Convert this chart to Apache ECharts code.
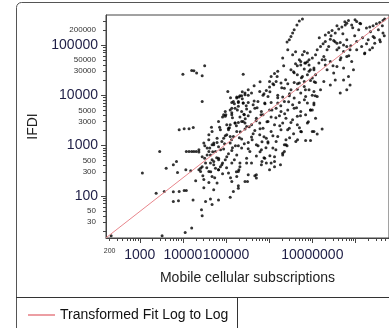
<!DOCTYPE html>
<html><head><meta charset="utf-8">
<script src="https://cdn.jsdelivr.net/npm/echarts@6/dist/echarts.min.js"></script>
<style>html,body{margin:0;padding:0;background:#fff}#c{width:389px;height:328px}</style>
</head><body><div id="c"></div>
<script>
// Mobile cellular subscriptions (x) and IFDI (y)
const subscriptions = [
217, 1150, 2400, 2900, 3300, 3700, 4100, 6000, 7100, 7500,
6000, 8200, 6000, 7900, 8200, 10700, 13900, 17400, 12000, 13900,
16000, 18000, 20400, 23500, 11700, 15200, 10700, 12000, 11300, 17200,
16000, 27000, 28000, 33500, 43500, 47500, 67000, 46000, 71000, 10000,
16000, 18000, 20800, 28000, 32000, 28000, 250000, 110000,
19800, 23500, 25700, 28000, 32000, 30600, 36500, 40000, 42000, 47500,
52000, 47500, 43500, 52000, 57000, 40000, 62000, 67000, 67000, 62000,
125000, 162000, 193000, 230000, 275000, 300000, 136000, 260000, 96000, 99000,
83000, 88000, 136000, 177000, 200000, 230000, 275000, 148000, 193000, 250000,
193000, 265000, 114000, 104000, 88000, 125000, 74000, 83000, 96000,
5400000, 6700000, 8400000, 4500000, 3200000, 3800000, 6500000, 8400000, 10900000, 1330000,
1530000, 4500000, 5900000, 7700000, 10000000, 11900000, 1450000, 1220000, 1880000, 2700000,
3800000, 5000000, 6500000, 9100000, 11900000, 1020000, 860000, 2250000, 3200000, 4500000,
6500000, 8400000, 10900000, 605000, 275000, 327000, 390000, 210000, 177000, 720000,
940000, 1580000, 2060000, 2930000, 3800000, 5400000, 7000000, 10000000, 136000, 193000,
250000, 327000, 425000, 550000, 790000, 1110000, 1580000, 2250000, 3500000, 5000000,
7700000, 10900000, 125000, 162000, 230000, 300000, 465000, 660000, 1020000, 1450000,
1880000, 2700000, 3800000, 5400000, 9100000, 96000, 136000, 210000, 327000, 505000,
720000, 1110000, 1730000, 2450000, 4500000, 7000000, 11900000, 67000, 104000, 162000,
250000, 390000, 605000, 940000, 1330000, 2060000, 3200000, 4500000, 7700000, 47500,
74000, 114000, 177000, 275000, 465000, 720000, 1110000, 1880000, 2930000, 5400000,
10000000, 40000, 62000, 96000, 148000, 230000, 390000, 605000, 860000, 1580000,
2450000, 4150000, 7000000, 9100000, 30600, 52000, 80000, 125000, 193000, 327000,
505000, 940000, 1450000, 2250000, 23500, 36500, 57000, 88000, 136000, 230000,
357000, 660000, 1220000, 2060000, 28000, 43500, 67000, 104000, 177000, 300000,
505000, 790000, 1330000, 33500, 52000, 80000, 136000, 210000, 390000, 660000,
1330000, 25700, 40000, 67000, 114000, 193000, 327000, 505000, 47500, 1020000,
10900000, 13000000, 16900000, 2450000, 2600000, 2250000, 2060000, 1830000, 1330000, 1110000,
860000, 680000, 505000, 465000, 315000, 193000, 199000, 210000, 300000,
5900000, 5000000, 4400000, 3800000, 3500000, 3200000, 2930000, 2600000,
20000000, 24000000, 28700000, 34000000, 41000000, 48500000, 58000000, 63000000, 69000000, 82000000,
98000000, 107000000, 127000000, 180000000, 215000000, 257000000, 306000000, 365000000, 435000000, 475000000,
20000000, 26200000, 31300000, 37300000, 44400000, 53000000, 63000000, 24000000, 37300000, 53000000, 75000000,
6500000, 7700000, 5900000, 8400000, 10000000, 11900000, 13000000, 15500000, 5000000, 7000000,
5400000, 10900000, 14200000, 16900000, 18500000, 20000000, 26200000, 22000000, 37300000, 31300000,
53000000, 44400000, 63000000, 82000000, 90000000, 69000000, 53000000, 34000000, 75000000, 63000000,
44400000, 26200000, 18500000, 15500000, 13000000, 10900000, 9100000,
165000000, 215000000, 280000000, 365000000, 435000000, 257000000, 139000000, 107000000, 198000000,
2700000, 3500000, 4100000, 2060000, 1110000, 1580000, 1020000,
127000, 156000, 183000, 238000, 294000, 363000, 448000, 525000, 648000, 800000,
141000, 174000, 214000, 279000, 344000, 425000, 498000, 615000, 759000, 889000,
134000, 165000, 204000, 265000, 327000, 403000, 553000, 682000, 843000, 120000,
1040000, 1280000, 1580000, 1960000, 2410000, 2980000, 3680000, 4540000, 5600000, 6920000,
1160000, 1430000, 1860000, 2290000, 2830000, 3490000, 4310000, 5320000, 6560000, 8100000,
9000000, 11100000, 7690000, 4090000, 2170000, 1760000, 2680000, 5040000, 11700000, 10000000,
14500000, 17800000, 22000000, 27200000, 33600000, 41400000, 51100000, 63100000, 77900000, 96100000,
119000000, 146000000, 181000000, 223000000, 275000000, 340000000, 420000000, 466000000, 46000000, 70100000,
107000000, 163000000, 248000000, 378000000, 19800000, 30200000, 37300000, 56800000, 86500000, 132000000,
29000, 35800, 44200, 54600, 67400, 83200, 103000, 127000, 156000, 174000,
32200, 39800, 49100, 60700, 74800, 92400, 114000, 141000, 30600, 51800,
148000, 125000, 193000, 275000, 136000, 177000,
2980000, 3680000, 4540000, 5600000, 1430000, 1040000, 759000, 615000, 936000, 1220000,
327000, 448000, 615000, 759000, 238000
];
const ifdi = [
16, 283, 113, 760, 16, 122, 355, 413, 480, 290,
120, 122, 77, 80, 2050, 2150, 2150, 2280, 760, 760,
760, 760, 760, 740, 330, 314, 127, 127, 18.6, 83,
23, 53, 40, 77, 86, 67, 83, 2300, 2300, 26000,
31000, 30500, 27500, 24300, 38500, 7500, 26000, 11800,
200, 330, 305, 380, 560, 210, 650, 760, 890, 1030,
1120, 520, 450, 413, 355, 184, 1150, 940, 330, 179,
2600, 2800, 2870, 3000, 2800, 2390, 4500, 4200, 4750, 4100,
3670, 4100, 5500, 8800, 9200, 9800, 10200, 7500, 7200, 7000,
6000, 4100, 2050, 1630, 1400, 1510, 380, 450, 520,
47000, 43500, 40000, 38500, 32000, 28000, 33000, 30000, 32000, 27000,
23500, 25500, 23500, 25500, 22000, 25500, 18700, 16900, 17400, 16900,
17900, 17400, 18700, 19600, 17900, 14500, 12400, 13800, 12800, 13200,
14900, 12800, 11800, 11800, 11000, 10000, 11000, 9700, 9200, 10000,
9400, 10000, 9200, 9700, 8750, 11000, 9400, 10000, 7200, 7500,
7000, 7200, 6450, 7500, 7000, 7200, 7000, 7500, 6450, 7200,
7000, 6450, 5100, 5500, 4750, 5300, 5500, 4750, 5100, 5500,
4750, 5100, 5500, 4750, 5100, 3800, 4100, 3670, 3900, 3500,
4100, 3670, 3900, 3500, 3800, 4100, 3500, 3000, 2600, 2800,
3000, 2600, 2800, 3000, 2600, 2800, 2870, 2600, 2800, 1900,
2050, 2200, 1900, 2120, 1990, 2200, 1900, 2050, 2200, 1900,
1900, 1630, 1400, 1560, 1510, 1340, 1470, 1630, 1400, 1510,
1300, 1200, 1260, 1260, 1120, 1030, 1200, 1120, 990, 1150,
1030, 1120, 1200, 1030, 820, 890, 760, 850, 795, 890,
760, 820, 890, 705, 600, 650, 560, 600, 650, 560,
620, 560, 600, 450, 480, 413, 450, 380, 450, 413,
480, 355, 305, 330, 283, 305, 261, 225, 242, 330,
1900, 1700, 2120, 1030, 990, 760, 650, 413, 380, 450,
450, 480, 261, 250, 192, 142, 330, 450, 450,
326000, 300000, 250000, 200000, 172000, 147000, 126000, 114000,
158000, 177000, 193000, 172000, 206000, 226000, 250000, 270000, 305000, 250000,
315000, 292000, 270000, 216000, 226000, 240000, 262000, 280000, 305000, 326000,
117000, 130000, 122000, 108000, 112000, 100000, 93000, 93000, 80000, 74000, 80000,
74000, 69000, 63500, 50500, 55000, 63500, 80000, 93000, 50500, 43500,
40000, 34600, 43500, 50500, 59000, 40000, 47000, 32000, 37200, 27500,
34600, 50500, 59000, 47000, 32000, 23500, 20000, 20000, 16000, 12800,
11000, 16000, 18700, 12800, 9400, 7000, 5100,
69000, 80000, 108000, 126000, 172000, 147000, 93000, 117000, 126000,
80000, 63500, 73000, 55000, 23500, 30000, 18700,
8900, 6750, 5100, 8500, 6150, 4680, 7700, 5600, 4100, 6750,
3550, 2460, 1870, 3400, 2350, 1710, 3100, 2150, 1490, 2960,
1300, 990, 1420, 1080, 860, 1300, 990, 1190, 900, 2250,
11700, 16100, 8900, 14000, 20200, 10700, 29200, 16900, 22200, 12800,
5100, 3550, 6150, 4270, 7400, 3240, 5600, 3890, 8100, 2960,
32000, 18500, 46100, 42100, 38400, 2460, 2050, 2250, 9700, 5100,
138000, 105000, 80000, 152000, 115000, 87500, 166000, 126000, 96000, 152000,
200000, 138000, 105000, 182000, 138000, 200000, 240000, 152000, 55400, 60700,
80000, 66500, 87500, 115000, 50500, 38400, 240000, 288000, 219000, 263000,
250, 360, 300, 228, 520, 274, 360, 228, 520, 300,
990, 1300, 750, 570, 820, 1080, 684, 900, 144, 132,
122, 94, 158, 192, 192, 242,
1420, 1710, 1300, 1870, 820, 624, 570, 750, 1190, 1560,
12800, 15400, 18500, 10700, 11700
];
// Transformed fit (log to log), end points at the plot edges
const fitSubscriptions = [165, 600000000];
const fitIfdi = [14.6, 359000];

// Axis ranges and tick labels
const xRange = [165, 600000000];
const yRange = [14.5, 393000];
const xTickLabels = [200, 1000, 10000, 100000, 10000000];
const yTickLabels = [30, 50, 100, 300, 500, 1000, 3000, 5000, 10000, 30000, 50000, 100000, 200000];
const xMajorTicks = [1000, 10000, 100000, 1000000, 10000000, 100000000];
const yMajorTicks = [100, 1000, 10000, 100000];

const xMinorTicks = [];
for (let e = 2; e <= 8; e++) for (let m = 2; m <= 9; m++) xMinorTicks.push(m * Math.pow(10, e));
const yMinorTicks = [];
for (let e = 1; e <= 5; e++) for (let m = 2; m <= 9; m++) yMinorTicks.push(m * Math.pow(10, e));

const FONT = '"Liberation Sans", Arial, sans-serif';
const AX = '#444';
const FIT_COLOR = '#e8868c';
function isPow10(n) { return /^10*$/.test(String(n)); }
function fmt(v) { const n = Math.round(v); return isPow10(n) ? '{b|' + n + '}' : '{s|' + n + '}'; }

const points = subscriptions.map((x, i) => [x, ifdi[i]]);
const fitLine = fitSubscriptions.map((x, i) => [x, fitIfdi[i]]);

const chart = echarts.init(document.getElementById('c'), null, { renderer: 'canvas' });
chart.setOption({
  animation: false,
  backgroundColor: '#fff',
  grid: { left: 106, top: 15, right: -4, bottom: 90, show: true, borderColor: AX, borderWidth: 1, backgroundColor: 'transparent' },
  xAxis: [
    {
      type: 'log', min: xRange[0], max: xRange[1], position: 'bottom',
      name: 'Mobile cellular subscriptions', nameLocation: 'middle', nameGap: 33,
      nameTextStyle: { fontFamily: FONT, fontSize: 14, color: '#222' },
      axisLine: { show: true, lineStyle: { color: AX, width: 1 } },
      axisTick: { show: true, customValues: xMajorTicks, length: 5, inside: false, lineStyle: { color: AX } },
      axisLabel: {
        customValues: xTickLabels, margin: 10, hideOverlap: false, formatter: fmt,
        rich: {
          b: { fontFamily: FONT, fontSize: 14, color: '#1e1e46' },
          s: { fontFamily: FONT, fontSize: 7, color: '#333' }
        }
      },
      splitLine: { show: false }
    },
    {
      type: 'log', min: xRange[0], max: xRange[1], position: 'bottom',
      axisLine: { show: false },
      axisTick: { show: true, customValues: xMinorTicks, length: 3, lineStyle: { color: AX } },
      axisLabel: { show: false },
      splitLine: { show: false }
    }
  ],
  yAxis: [
    {
      type: 'log', min: yRange[0], max: yRange[1], position: 'left',
      name: 'IFDI', nameLocation: 'middle', nameGap: 62,
      nameTextStyle: { fontFamily: FONT, fontSize: 14, color: '#222' },
      axisLine: { show: true, lineStyle: { color: AX, width: 1 } },
      axisTick: { show: true, customValues: yMajorTicks, length: 5, lineStyle: { color: AX } },
      axisLabel: {
        customValues: yTickLabels, margin: 8, hideOverlap: false, formatter: fmt,
        rich: {
          b: { fontFamily: FONT, fontSize: 14, color: '#1e1e46' },
          s: { fontFamily: FONT, fontSize: 8, color: '#333', padding: [0, 2, 0, 0] }
        }
      },
      splitLine: { show: false }
    },
    {
      type: 'log', min: yRange[0], max: yRange[1], position: 'left',
      axisLine: { show: false },
      axisTick: { show: true, customValues: yMinorTicks, length: 3, lineStyle: { color: AX } },
      axisLabel: { show: false },
      splitLine: { show: false }
    }
  ],
  legend: {
    data: [{ name: 'Transformed Fit Log to Log', icon: 'rect' }],
    left: 28, top: 308, padding: 0, itemWidth: 27, itemHeight: 1.6,
    itemStyle: { color: FIT_COLOR, borderWidth: 0 },
    textStyle: { fontFamily: FONT, fontSize: 14, color: '#111' }
  },
  series: [
    {
      name: 'IFDI', type: 'scatter', xAxisIndex: 0, yAxisIndex: 0,
      data: points, symbol: 'circle', symbolSize: 3,
      itemStyle: { color: '#000' }, silent: true
    },
    {
      name: 'Transformed Fit Log to Log', type: 'line', xAxisIndex: 0, yAxisIndex: 0,
      data: fitLine, symbol: 'none', showSymbol: false,
      lineStyle: { color: FIT_COLOR, width: 1 }, itemStyle: { color: FIT_COLOR }, silent: true
    }
  ],
  graphic: [
    { type: 'rect', silent: true, z: 100, shape: { x: 16.5, y: 2.5, width: 420, height: 400, r: [5, 0, 0, 0] }, style: { fill: 'none', stroke: '#555', lineWidth: 1 } },
    { type: 'line', silent: true, z: 100, shape: { x1: 16, y1: 297.5, x2: 389, y2: 297.5 }, style: { stroke: '#333', lineWidth: 1 } },
    { type: 'line', silent: true, z: 100, shape: { x1: 237.5, y1: 297, x2: 237.5, y2: 328 }, style: { stroke: '#333', lineWidth: 1 } }
  ]
});
</script>
</body></html>
